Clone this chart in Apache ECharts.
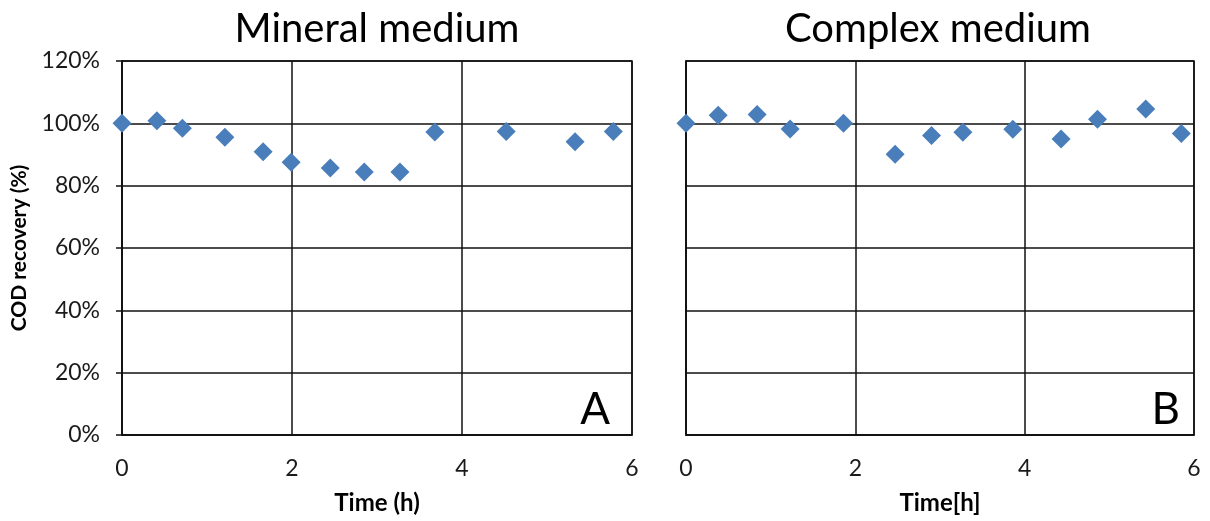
<!DOCTYPE html>
<html>
<head>
<meta charset="utf-8">
<script src="https://cdn.jsdelivr.net/npm/echarts@6/dist/echarts.min.js"></script>
<style>
  html, body { margin: 0; padding: 0; background: #fff; }
  #chart { width: 1210px; height: 521px; }
</style>
</head>
<body>
<div id="chart"></div>
<script>
// COD recovery over time, two culture media
const mineralTime = [0, 0.41, 0.71, 1.21, 1.66, 1.99, 2.45, 2.85, 3.27, 3.68, 4.52, 5.33, 5.78];
const mineralRecovery = [100, 100.8, 98.4, 95.5, 90.9, 87.5, 85.7, 84.4, 84.4, 97.2, 97.4, 94.1, 97.4];

const complexTime = [0, 0.38, 0.84, 1.23, 1.86, 2.47, 2.90, 3.27, 3.86, 4.43, 4.86, 5.43, 5.85];
const complexRecovery = [100, 102.6, 102.8, 98.2, 100, 90.1, 96.1, 97.1, 98.1, 95.0, 101.3, 104.6, 96.7];

const panelTitles = ['Mineral medium', 'Complex medium'];
const panelLetters = ['A', 'B'];
const xAxisNames = ['Time (h)', 'Time[h]'];
const yAxisName = 'COD recovery (%)';

const FONT = 'Lato, "Noto Sans", sans-serif';
const LINE = '#111';
const MARK = '#4a7ebb';

function pairs(xs, ys) { return xs.map((x, i) => [x, ys[i]]); }

const grids = [
  { left: 122, top: 61, width: 510, height: 374, show: true, borderColor: LINE, borderWidth: 1.5 },
  { left: 686, top: 61, width: 508, height: 374, show: true, borderColor: LINE, borderWidth: 1.5 }
];

const xAxes = [0, 1].map(i => ({
  gridIndex: i, type: 'value', min: 0, max: 6, interval: 2,
  name: xAxisNames[i], nameLocation: 'middle', nameGap: 56,
  nameTextStyle: { fontFamily: FONT, fontSize: 24, fontWeight: 'bold', color: '#000' },
  axisLine: { show: true, lineStyle: { color: LINE, width: 1.5 } },
  axisTick: { show: false },
  axisLabel: { fontFamily: FONT, fontSize: 23, color: '#1a1a1a', margin: 22 },
  splitLine: { show: true, lineStyle: { color: LINE, width: 1.5 } }
}));

const yAxes = [0, 1].map(i => ({
  gridIndex: i, type: 'value', min: 0, max: 120, interval: 20,
  name: i === 0 ? yAxisName : '', nameLocation: 'middle', nameGap: 92,
  nameTextStyle: { fontFamily: FONT, fontSize: 21, fontWeight: 'bold', color: '#000' },
  axisLine: { show: true, lineStyle: { color: LINE, width: 1.5 } },
  axisTick: { show: i === 0, length: 6, lineStyle: { color: LINE, width: 1.5 } },
  axisLabel: { show: i === 0, fontFamily: FONT, fontSize: 23, color: '#1a1a1a', margin: 22,
               formatter: v => v + '%' },
  splitLine: { show: true, lineStyle: { color: LINE, width: 1.5 } }
}));

const series = [
  { data: pairs(mineralTime, mineralRecovery), xAxisIndex: 0, yAxisIndex: 0 },
  { data: pairs(complexTime, complexRecovery), xAxisIndex: 1, yAxisIndex: 1 }
].map(s => Object.assign({
  type: 'scatter', symbol: 'diamond', symbolSize: 19,
  itemStyle: { color: MARK, opacity: 1 }, z: 5
}, s));

const chart = echarts.init(document.getElementById('chart'), null, { renderer: 'canvas' });
chart.setOption({
  animation: false,
  backgroundColor: '#fff',
  title: [
    { text: panelTitles[0], left: 372, top: 4, textAlign: 'center',
      textStyle: { fontFamily: FONT, fontSize: 40, fontWeight: 'normal', color: '#000' } },
    { text: panelTitles[1], left: 933, top: 4, textAlign: 'center',
      textStyle: { fontFamily: FONT, fontSize: 40, fontWeight: 'normal', color: '#000' } }
  ],
  graphic: [
    { type: 'text', right: 1210 - 610, bottom: 521 - 432,
      style: { text: panelLetters[0], font: '44px ' + FONT, fill: '#000' } },
    { type: 'text', right: 1210 - 1180, bottom: 521 - 432,
      style: { text: panelLetters[1], font: '44px ' + FONT, fill: '#000' } }
  ],
  grid: grids,
  xAxis: xAxes,
  yAxis: yAxes,
  series: series
});
</script>
</body>
</html>
